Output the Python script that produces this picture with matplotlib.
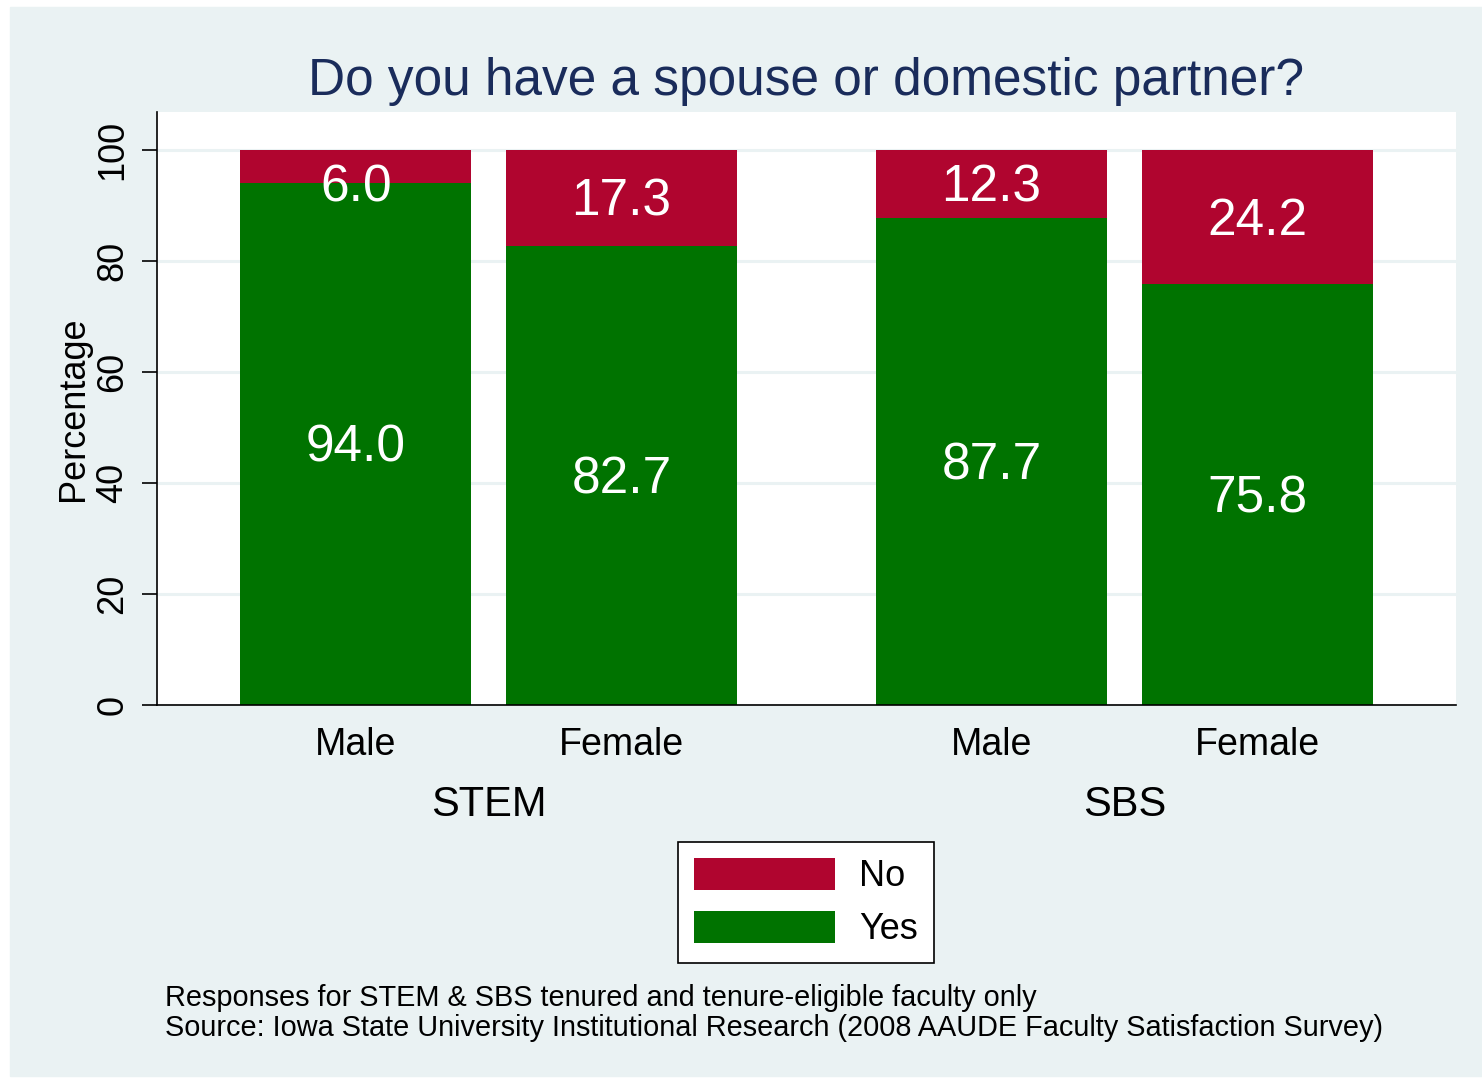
import numpy as np
import matplotlib.pyplot as plt
from matplotlib.patches import Rectangle

plt.rcParams['font.family'] = ['Liberation Sans', 'DejaVu Sans']

groups = ['STEM', 'SBS']
genders = ['Male', 'Female', 'Male', 'Female']
yes_pct = [94.0, 82.7, 87.7, 75.8]
no_pct = [6.0, 17.3, 12.3, 24.2]

red = '#b0052f'
green = '#007300'
bg = '#eaf2f3'

fig = plt.figure(figsize=(14.82, 10.79), dpi=100, facecolor='white')
fig.patches.append(Rectangle((10 / 1482, 3 / 1079), 1 - 10 / 1482, 1 - 10 / 1079,
                             transform=fig.transFigure, color=bg, zorder=-10))

ax = fig.add_axes([157 / 1482, 1 - 705 / 1079, 1299 / 1482, 593 / 1079])
ax.set_facecolor('white')

# bar centres: small gap inside a group, bigger gap between groups
pos = np.array([0, 1.15, 2.75, 3.9])
w = 1.0
b_yes = ax.bar(pos, yes_pct, width=w, color=green, label='Yes', zorder=2)
b_no = ax.bar(pos, no_pct, width=w, bottom=yes_pct, color=red, label='No', zorder=2)

# value labels in the middle of each segment (kept clear of the top edge)
for x, y, n in zip(pos, yes_pct, no_pct):
    for mid, v in [(y / 2, y), (min(y + n / 2, 93.9), n)]:
        ax.annotate(f'{v:.1f}', (x, mid), xytext=(0, -3), textcoords='offset points',
                    ha='center', va='center', color='white', fontsize=37, zorder=3)

ax.set_xlim(pos[0] - 0.5 - 0.36, pos[-1] + 0.5 + 0.36)
ax.set_ylim(0, 106.8)
ax.set_yticks([0, 20, 40, 60, 80, 100])
ax.yaxis.grid(True, color=bg, lw=2.2, zorder=0)
ax.set_axisbelow(True)

ax.set_xticks(pos, genders)
ax.tick_params(axis='x', length=0, labelsize=27, pad=15.5)
ax.tick_params(axis='y', length=11, width=1.2, labelsize=26, pad=8)
for t in ax.get_yticklabels():
    t.set_rotation(90)
    t.set_va('center')

for s in ['top', 'right']:
    ax.spines[s].set_visible(False)
for s in ['left', 'bottom']:
    ax.spines[s].set_linewidth(1.2)

ax.set_ylabel('Percentage', fontsize=26, labelpad=3)

for i, g in enumerate(groups):
    xc = (pos[2 * i] + pos[2 * i + 1]) / 2
    ax.text(xc, -0.169, g, transform=ax.get_xaxis_transform(),
            ha='center', va='center', fontsize=30)

ax.set_title('Do you have a spouse or domestic partner?', fontsize=37,
             color='#1a2c5b', pad=12)

handles = [b_no, b_yes]
leg = fig.legend(handles, ['No', 'Yes'], loc='center',
                 bbox_to_anchor=(806 / 1482, 1 - 902.5 / 1079),
                 fontsize=26, handlelength=3.9, handleheight=1.0,
                 handletextpad=0.66, labelspacing=0.45, borderpad=0.44,
                 fancybox=False, framealpha=1, edgecolor='black')
leg.get_frame().set_linewidth(1.2)

fig.text(165 / 1482, 1 - 984 / 1079,
         'Responses for STEM & SBS tenured and tenure-eligible faculty only\n'
         'Source: Iowa State University Institutional Research (2008 AAUDE Faculty Satisfaction Survey)',
         fontsize=20.8, va='top', ha='left', linespacing=1.1)

fig.savefig('out.png', dpi=100, facecolor=fig.get_facecolor())
